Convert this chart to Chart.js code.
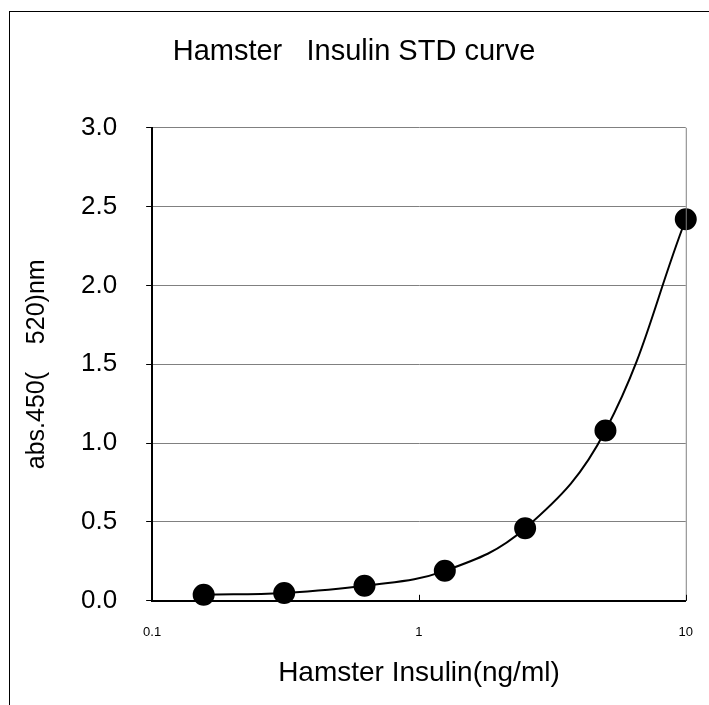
<!DOCTYPE html>
<html>
<head>
<meta charset="utf-8">
<script src="https://cdn.jsdelivr.net/npm/chart.js@4.4.0/dist/chart.umd.min.js"></script>
<style>
  html, body { margin: 0; padding: 0; background: #fff; }
  #wrap { position: relative; width: 709px; height: 705px; }
  #frame { position: absolute; left: 9px; top: 11px; right: 0; bottom: 0; border-left: 1px solid #000; border-top: 1px solid #000; }
  canvas { position: absolute; left: 0; top: 0; }
</style>
</head>
<body>
<div id="wrap">
  <div id="frame"></div>
  <canvas id="std-chart" width="709" height="705"></canvas>
</div>
<script>
// insulin standards (ng/ml) and measured absorbance
const concentrations = [0.156, 0.3125, 0.625, 1.25, 2.5, 5, 10];
const absorbance = [0.038, 0.05, 0.095, 0.19, 0.46, 1.08, 2.42];
const xTickValues = [0.1, 1, 10];
const yTickValues = [0, 0.5, 1.0, 1.5, 2.0, 2.5, 3.0];

const fontName = '"Liberation Sans", Arial, sans-serif';

// small inward tick marks on the x axis + right border of the plot
const axisExtras = {
    id: 'axisExtras',
    afterDraw(chart) {
        const ctx = chart.ctx;
        const x = chart.scales.x;
        const area = chart.chartArea;
        ctx.save();
        ctx.strokeStyle = '#808080';
        ctx.lineWidth = 1;
        ctx.beginPath();
        ctx.moveTo(area.right + 0.5, area.top);
        ctx.lineTo(area.right + 0.5, area.bottom);
        ctx.stroke();
        ctx.strokeStyle = '#000';
        ctx.beginPath();
        xTickValues.forEach(v => {
            const px = Math.round(x.getPixelForValue(v)) + 0.5;
            ctx.moveTo(px, area.bottom);
            ctx.lineTo(px, area.bottom - 6);
        });
        ctx.stroke();
        ctx.restore();
    }
};

let ctx = document.getElementById('std-chart').getContext('2d');

new Chart(ctx, {
    type: 'scatter',
    data: {
        datasets: [{
            data: concentrations.map((c, i) => ({ x: c, y: absorbance[i] })),
            showLine: true,
            clip: false,
            borderColor: '#000',
            borderWidth: 2,
            tension: 0.4,
            pointRadius: 10,
            pointBackgroundColor: '#000',
            pointBorderColor: '#000'
        }]
    },
    options: {
        responsive: false,
        animation: false,
        layout: { padding: { left: 22, right: 23, top: 35, bottom: 15 } },
        plugins: {
            legend: { display: false },
            tooltip: { enabled: false },
            title: {
                display: true,
                text: 'Hamster   Insulin STD curve',
                color: '#000',
                font: { family: fontName, size: 29, weight: 'normal' },
                padding: { top: 0, bottom: 58 }
            }
        },
        scales: {
            x: {
                type: 'logarithmic',
                min: 0.1,
                max: 10,
                afterBuildTicks: scale => { scale.ticks = xTickValues.map(v => ({ value: v })); },
                ticks: {
                    color: '#000',
                    font: { family: fontName, size: 13 },
                    padding: 16,
                    maxRotation: 0,
                    callback: v => String(v)
                },
                grid: { display: false },
                border: { color: '#000', width: 2 },
                title: {
                    display: true,
                    text: 'Hamster Insulin(ng/ml)',
                    color: '#000',
                    font: { family: fontName, size: 28 },
                    padding: { top: 0, bottom: 0 }
                }
            },
            y: {
                min: 0,
                max: 3.0,
                afterBuildTicks: scale => { scale.ticks = yTickValues.map(v => ({ value: v })); },
                ticks: {
                    color: '#000',
                    font: { family: fontName, size: 26 },
                    padding: 29,
                    callback: v => v.toFixed(1)
                },
                grid: { color: '#808080', lineWidth: 1, tickLength: 6, tickColor: '#000' },
                border: { color: '#000', width: 2 },
                title: {
                    display: true,
                    text: 'abs.450(    520)nm',
                    color: '#000',
                    font: { family: fontName, size: 25 },
                    padding: { top: 0, bottom: 0 }
                }
            }
        }
    },
    plugins: [axisExtras]
});
</script>
</body>
</html>
